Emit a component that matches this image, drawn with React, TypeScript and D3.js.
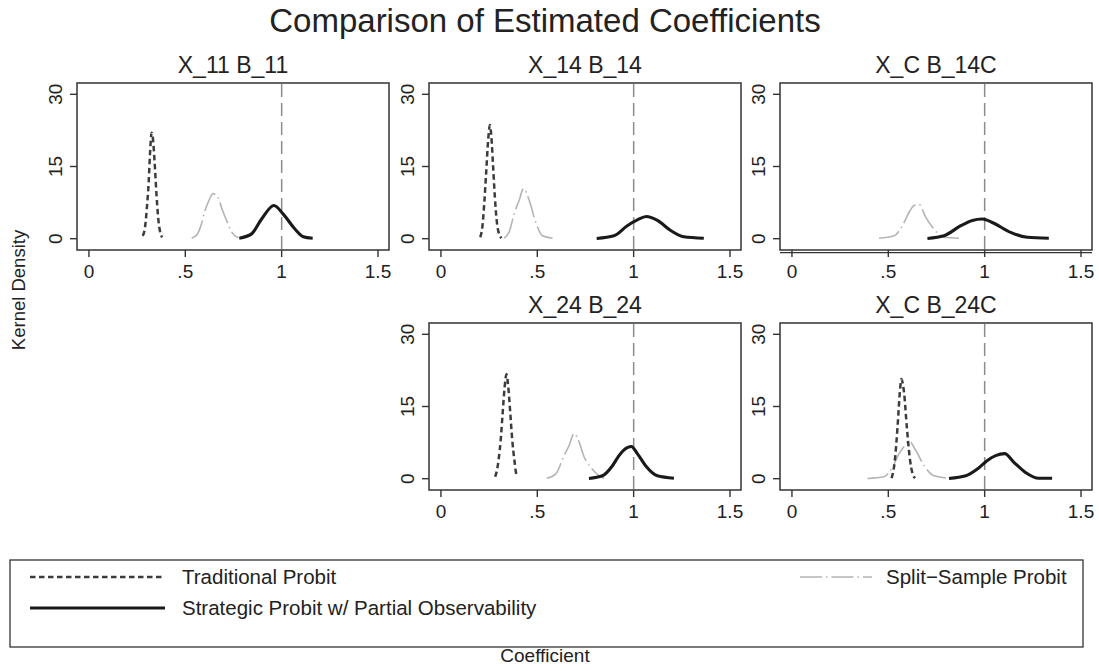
import React, { useEffect, useRef } from "react";
import * as d3 from "d3";

type Pt = [number, number];

// tick values / labels
const xTicks = [0, 0.5, 1, 1.5];
const xTickLabels = ["0", ".5", "1", "1.5"];
const yTicks = [0, 15, 30];
const yTickLabels = ["0", "15", "30"];

const panelTitles = ["X_11 B_11", "X_14 B_14", "X_C B_14C", "X_24 B_24", "X_C B_24C"];
const trueValue = 1;

// Traditional Probit (dashed)
const trad11: Pt[] = [[0.279, 0.6], [0.29, 2.1], [0.3, 6.1], [0.31, 11.8], [0.318, 18.5], [0.325, 22], [0.332, 20.8], [0.34, 16.4], [0.35, 9.5], [0.36, 4.0], [0.37, 1.3], [0.38, 0.3]];
const trad14: Pt[] = [[0.204, 0.3], [0.215, 2.5], [0.225, 7.5], [0.235, 14], [0.245, 20.5], [0.254, 23.6], [0.262, 21], [0.27, 15.5], [0.28, 8.5], [0.29, 3.5], [0.3, 1.2], [0.314, 0.1]];
const trad24: Pt[] = [[0.281, 0.4], [0.29, 1.6], [0.3, 4.2], [0.31, 8], [0.32, 13.5], [0.33, 18.8], [0.34, 21.7], [0.35, 18.8], [0.36, 13.5], [0.37, 8], [0.38, 4.2], [0.388, 1.6], [0.394, 0.4]];
const trad24C: Pt[] = [[0.517, 0.1], [0.534, 3.8], [0.548, 10.8], [0.56, 18], [0.568, 20.7], [0.575, 19.8], [0.582, 17.8], [0.596, 10.8], [0.613, 3.8], [0.625, 1.2], [0.639, 0.1]];

// Split-Sample Probit (dash-dot, light grey)
const split11: Pt[] = [[0.533, 0.1], [0.56, 0.8], [0.585, 3.2], [0.602, 5.8], [0.619, 7.6], [0.635, 9.0], [0.645, 9.4], [0.658, 9.0], [0.671, 8.5], [0.69, 6.2], [0.715, 3.7], [0.74, 1.4], [0.775, 0.2]];
const split14: Pt[] = [[0.328, 0.1], [0.355, 1.5], [0.38, 5.2], [0.406, 8.0], [0.428, 10.4], [0.458, 8.0], [0.492, 3.4], [0.527, 0.6], [0.579, 0.1]];
const split14C: Pt[] = [[0.452, 0.1], [0.53, 0.6], [0.582, 3.4], [0.608, 5.5], [0.634, 6.9], [0.66, 7.1], [0.694, 4.5], [0.729, 2.4], [0.789, 0.3], [0.867, 0.1]];
const split24: Pt[] = [[0.549, 0.1], [0.596, 1.0], [0.639, 4.8], [0.665, 6.9], [0.691, 9.4], [0.717, 7.6], [0.743, 4.5], [0.777, 2.4], [0.82, 0.6], [0.846, 0.1]];
const split24C: Pt[] = [[0.392, 0.05], [0.478, 0.4], [0.522, 2.4], [0.556, 5.2], [0.582, 6.7], [0.608, 7.8], [0.642, 5.9], [0.686, 2.7], [0.737, 0.6], [0.815, 0.1]];

// Strategic Probit w/ Partial Observability (solid black)
const strat11: Pt[] = [[0.78, 0.1], [0.844, 1.0], [0.896, 4.1], [0.96, 6.9], [1.008, 5.1], [1.069, 2.0], [1.112, 0.4], [1.161, 0.1]];
const strat14: Pt[] = [[0.808, 0.05], [0.898, 0.6], [0.967, 2.7], [1.019, 3.9], [1.066, 4.6], [1.123, 3.8], [1.192, 1.7], [1.26, 0.4], [1.364, 0.1]];
const strat14C: Pt[] = [[0.703, 0.05], [0.789, 0.6], [0.876, 2.7], [0.936, 3.8], [0.988, 4.1], [1.048, 3.2], [1.135, 1.3], [1.221, 0.3], [1.333, 0.1]];
const strat24: Pt[] = [[0.768, 0.05], [0.838, 0.6], [0.89, 2.7], [0.924, 4.8], [0.95, 6.0], [0.988, 6.7], [1.019, 5.2], [1.062, 2.7], [1.123, 0.6], [1.209, 0.1]];
const strat24C: Pt[] = [[0.815, 0.05], [0.902, 0.6], [0.962, 2.0], [1.014, 3.8], [1.057, 4.8], [1.104, 5.2], [1.152, 3.4], [1.212, 1.3], [1.281, 0.1], [1.35, 0.1]];

const tradSeries = [trad11, trad14, null, trad24, trad24C];
const splitSeries = [split11, split14, split14C, split24, split24C];
const stratSeries = [strat11, strat14, strat14C, strat24, strat24C];

const legendLabels = ["Traditional Probit", "Split\u2212Sample Probit", "Strategic Probit w/ Partial Observability"];

const FONT = "'Liberation Sans', Arial, Helvetica, sans-serif";
const W = 1099;
const H = 671;

// panel boxes: [left, top]
const layout = [
  [77, 83],
  [429, 83],
  [780, 83],
  [429, 323],
  [780, 323],
];
const PW = 312;
const PH = 167;

const App: React.FC = () => {
  const svgRef = useRef<SVGSVGElement | null>(null);

  useEffect(() => {
    if (!svgRef.current) return;
    const svg = d3.select(svgRef.current);
    svg.selectAll("*").remove();

    svg.append("rect").attr("width", W).attr("height", H).attr("fill", "#fff");

    svg
      .append("text")
      .attr("x", 545)
      .attr("y", 32)
      .attr("text-anchor", "middle")
      .attr("font-size", 33)
      .attr("font-family", FONT)
      .attr("fill", "#222")
      .text("Comparison of Estimated Coefficients");

    layout.forEach(([left, top], i) => {
      const x = d3.scaleLinear().domain([-0.062, 1.557]).range([left, left + PW]);
      const y = d3.scaleLinear().domain([-2.35, 32.35]).range([top + PH, top]);
      const g = svg.append("g");

      g.append("text")
        .attr("x", left + PW / 2)
        .attr("y", top - 10)
        .attr("text-anchor", "middle")
        .attr("font-size", 23)
        .attr("font-family", FONT)
        .attr("fill", "#222")
        .text(panelTitles[i]);

      // reference line at true value
      g.append("line")
        .attr("x1", x(trueValue))
        .attr("x2", x(trueValue))
        .attr("y1", top + 1)
        .attr("y2", top + PH)
        .attr("stroke", "#8c8c8c")
        .attr("stroke-width", 1.5)
        .attr("stroke-dasharray", "13,6");

      const line = d3
        .line<Pt>()
        .x((d) => x(d[0]))
        .y((d) => y(d[1]))
        .curve(d3.curveMonotoneX);

      g.append("path")
        .attr("d", line(splitSeries[i])!)
        .attr("fill", "none")
        .attr("stroke", "#b4b4b4")
        .attr("stroke-width", 1.6)
        .attr("stroke-dasharray", "22,4,1.5,4");

      const trad = tradSeries[i];
      if (trad) {
        g.append("path")
          .attr("d", line(trad)!)
          .attr("fill", "none")
          .attr("stroke", "#3c3c3c")
          .attr("stroke-width", 2.5)
          .attr("stroke-dasharray", "5.5,3.5");
      }

      g.append("path")
        .attr("d", line(stratSeries[i])!)
        .attr("fill", "none")
        .attr("stroke", "#1a1a1a")
        .attr("stroke-width", 3.1);

      // box
      g.append("rect")
        .attr("x", left)
        .attr("y", top)
        .attr("width", PW)
        .attr("height", PH)
        .attr("fill", "none")
        .attr("stroke", "#333")
        .attr("stroke-width", 1.5);

      if (i === 2) {
        g.append("line")
          .attr("x1", left)
          .attr("x2", left + PW)
          .attr("y1", top + PH + 2.6)
          .attr("y2", top + PH + 2.6)
          .attr("stroke", "#333")
          .attr("stroke-width", 1.3);
      }

      // x axis
      xTicks.forEach((t, k) => {
        g.append("line")
          .attr("x1", x(t))
          .attr("x2", x(t))
          .attr("y1", top + PH)
          .attr("y2", top + PH + 7)
          .attr("stroke", "#333")
          .attr("stroke-width", 1.4);
        g.append("text")
          .attr("x", x(t))
          .attr("y", top + PH + 28)
          .attr("text-anchor", "middle")
          .attr("font-size", 19)
          .attr("font-family", FONT)
          .attr("fill", "#222")
          .text(xTickLabels[k]);
      });

      // y axis
      yTicks.forEach((t, k) => {
        g.append("line")
          .attr("x1", left - 7)
          .attr("x2", left)
          .attr("y1", y(t))
          .attr("y2", y(t))
          .attr("stroke", "#333")
          .attr("stroke-width", 1.4);
        g.append("text")
          .attr("transform", `translate(${left - 22},${y(t)}) rotate(-90)`)
          .attr("dy", "0.36em")
          .attr("text-anchor", "middle")
          .attr("font-size", 19)
          .attr("font-family", FONT)
          .attr("fill", "#222")
          .text(yTickLabels[k]);
      });
    });

    svg
      .append("text")
      .attr("transform", `translate(18,290) rotate(-90)`)
      .attr("dy", "0.36em")
      .attr("text-anchor", "middle")
      .attr("font-size", 18.5)
      .attr("font-family", FONT)
      .attr("fill", "#222")
      .text("Kernel Density");

    // legend
    const lg = svg.append("g");
    lg.append("rect")
      .attr("x", 10)
      .attr("y", 560)
      .attr("width", 1073)
      .attr("height", 87)
      .attr("fill", "none")
      .attr("stroke", "#333")
      .attr("stroke-width", 1.3);

    const legendItems = [
      { x1: 30, x2: 165, tx: 182, ty: 577, stroke: "#3c3c3c", w: 2.5, dash: "5.5,3.5", label: legendLabels[0] },
      { x1: 800, x2: 872, tx: 886, ty: 577, stroke: "#b4b4b4", w: 1.6, dash: "22,4,1.5,4", label: legendLabels[1] },
      { x1: 30, x2: 165, tx: 182, ty: 608, stroke: "#1a1a1a", w: 3.1, dash: null, label: legendLabels[2] },
    ];
    legendItems.forEach((d) => {
      lg.append("line")
        .attr("x1", d.x1)
        .attr("x2", d.x2)
        .attr("y1", d.ty)
        .attr("y2", d.ty)
        .attr("stroke", d.stroke)
        .attr("stroke-width", d.w)
        .attr("stroke-dasharray", d.dash);
      lg.append("text")
        .attr("x", d.tx)
        .attr("y", d.ty)
        .attr("dy", "0.36em")
        .attr("font-size", 20.5)
        .attr("font-family", FONT)
        .attr("fill", "#222")
        .text(d.label);
    });

    svg
      .append("text")
      .attr("x", 545)
      .attr("y", 655)
      .attr("dy", "0.36em")
      .attr("text-anchor", "middle")
      .attr("font-size", 19)
      .attr("font-family", FONT)
      .attr("fill", "#222")
      .text("Coefficient");
  }, []);

  return (
    <svg
      ref={svgRef}
      width={W}
      height={H}
      style={{ position: "absolute", left: 0, top: 0, display: "block" }}
    ></svg>
  );
};

export default App;
